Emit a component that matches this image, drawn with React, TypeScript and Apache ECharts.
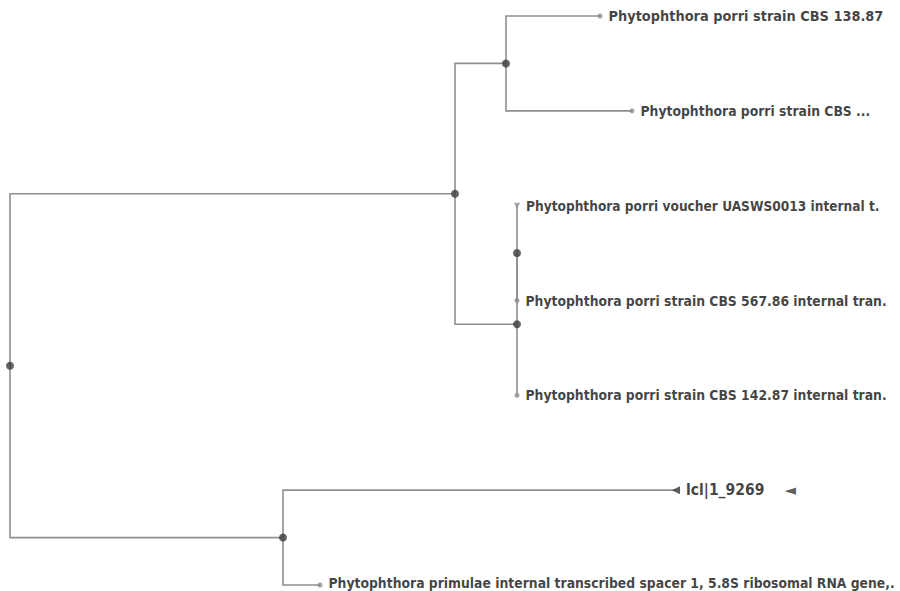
import React, { useEffect, useRef } from "react";
import * as echarts from "echarts";

// Leaves, top to bottom
const leafLabels = [
  "Phytophthora porri strain CBS 138.87",
  "Phytophthora porri strain CBS ...",
  "Phytophthora porri voucher UASWS0013 internal t.",
  "Phytophthora porri strain CBS 567.86 internal tran.",
  "Phytophthora porri strain CBS 142.87 internal tran.",
  "lcl|1_9269",
  "Phytophthora primulae internal transcribed spacer 1, 5.8S ribosomal RNA gene,.",
];
const leafParents = ["A", "A", "C", "C", "B", "D", "D"];
const leafLengths = [94, 126, 0, 0, 0, 393, 37];
const leafMarkers = ["circle", "circle", "triangle", "circle", "circle", "triangle", "circle"];
const leafRotations = [0, 0, 180, 0, 0, 90, 0];

// Internal nodes
const innerNodes = ["R", "T", "A", "B", "C", "D"];
const innerParents = ["", "R", "T", "T", "B", "R"];
const innerLengths = [0, 445, 51, 62, 0, 273];

const QUERY_INDEX = 5;
const labelSizes = [14.4, 13.8, 13.6, 13.8, 13.8, 15.5, 13.8];
const FONT = "'DejaVu Sans Condensed', 'DejaVu Sans', sans-serif";

function layoutTree() {
  const x: Record<string, number> = {};
  const y: Record<string, number> = {};
  const parent: Record<string, string> = {};
  const children: Record<string, string[]> = {};
  innerNodes.forEach((n, i) => {
    parent[n] = innerParents[i];
    children[n] = [];
  });
  leafLabels.forEach((_, i) => {
    const id = "L" + i;
    parent[id] = leafParents[i];
    y[id] = i;
  });
  innerNodes.forEach((n, i) => {
    if (innerParents[i]) children[innerParents[i]].push(n);
  });
  leafLabels.forEach((_, i) => children[leafParents[i]].push("L" + i));
  const len: Record<string, number> = {};
  innerNodes.forEach((n, i) => (len[n] = innerLengths[i]));
  leafLabels.forEach((_, i) => (len["L" + i] = leafLengths[i]));
  const getX = (n: string): number => {
    if (x[n] !== undefined) return x[n];
    const p = parent[n];
    x[n] = (p ? getX(p) : 0) + len[n];
    return x[n];
  };
  Object.keys(len).forEach(getX);
  const getY = (n: string): number => {
    if (y[n] !== undefined) return y[n];
    const ys = children[n].map(getY);
    y[n] = (Math.min(...ys) + Math.max(...ys)) / 2;
    return y[n];
  };
  innerNodes.forEach(getY);
  return { x, y, parent };
}

export default function App() {
  const ref = useRef<HTMLDivElement>(null);
  useEffect(() => {
    if (!ref.current) return;
    const chart = echarts.init(ref.current, undefined, { renderer: "svg" });
    const { x, y, parent } = layoutTree();

    const edges: number[][] = [];
    Object.keys(parent).forEach((n) => {
      const p = parent[n];
      if (p) edges.push([x[p], y[p], x[n], y[n]]);
    });

    const labelFont = {
      fontFamily: FONT,
      fontSize: 14,
      fontWeight: "bold" as const,
      color: "#111111",
    };

    const innerData = innerNodes.map((n) => [x[n], y[n]]);
    const leafData = leafLabels.map((label, i) => ({
      value: [x["L" + i], y["L" + i]],
      name: label,
      symbol: leafMarkers[i],
      symbolRotate: leafRotations[i],
      symbolSize: i === QUERY_INDEX ? 8 : leafMarkers[i] === "triangle" ? 6 : 5,
      itemStyle: { color: i === QUERY_INDEX ? "#333333" : "#8c8c8c" },
      label: {
        fontSize: labelSizes[i],
        offset: i === leafLabels.length - 1 ? [0, -2] : [0, 0],
        rich: {
          a: { ...labelFont, fontSize: labelSizes[i] },
          b: { ...labelFont, fontFamily: "DejaVu Sans", fontSize: 15, color: "#333333", padding: [0, 0, 0, 20] },
        },
      },
    }));

    chart.setOption({
      animation: false,
      backgroundColor: "#ffffff",
      grid: { left: 10, right: 10, top: 16, bottom: 6 },
      xAxis: { type: "value", min: 0, max: 880, show: false },
      yAxis: { type: "value", min: 0, max: 6, inverse: true, show: false },
      series: [
        {
          type: "custom",
          data: edges,
          renderItem: (_params: any, api: any) => {
            const p = api.coord([api.value(0), api.value(1)]);
            const c = api.coord([api.value(2), api.value(3)]);
            return {
              type: "polyline",
              shape: { points: [p, [p[0], c[1]], c] },
              style: { stroke: "#8f8f8f", lineWidth: 1.6, fill: "none" },
            };
          },
          z: 1,
        },
        {
          type: "scatter",
          data: leafData,
          z: 2,
          label: {
            show: true,
            position: "right",
            distance: 6,
            formatter: (p: any) =>
              p.dataIndex === QUERY_INDEX ? `{a|${p.name}}{b|◄}` : p.name,
            ...labelFont,
          },
        },
        {
          type: "scatter",
          data: innerData,
          symbol: "circle",
          symbolSize: 8,
          itemStyle: { color: "#3c3c3c" },
          z: 3,
        },
      ],
    });
    return () => chart.dispose();
  }, []);
  return (
    <div
      ref={ref}
      style={{ position: "fixed", left: 0, top: 0, width: 900, height: 591, background: "#fff" }}
    />
  );
}
